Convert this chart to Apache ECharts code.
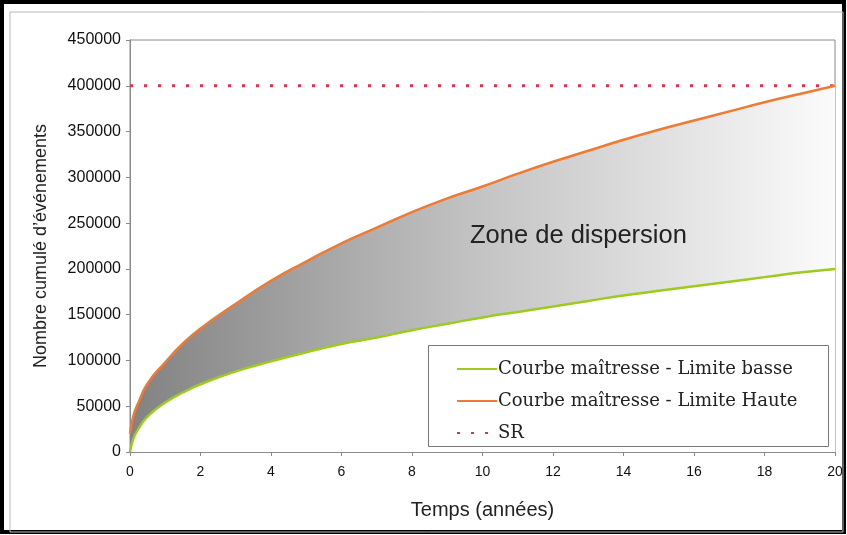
<!DOCTYPE html>
<html>
<head>
<meta charset="utf-8">
<script src="https://cdn.jsdelivr.net/npm/echarts@6/dist/echarts.min.js"></script>
<style>html,body{margin:0;padding:0;background:#fff;}#c{width:847px;height:535px;}</style>
</head>
<body>
<div id="c"></div>
<script>
const years = [0, 0.1, 0.25, 0.5, 1, 1.5, 2, 3, 4, 5, 6, 7, 8, 9, 10, 11, 12, 13, 14, 15, 16, 17, 18, 19, 20];
const lowerLimit = [0, 15000, 26000, 39000, 54000, 65000, 74000, 88000, 99000, 109000, 118000, 125000, 133000, 140000, 147000, 153000, 159000, 165000, 171000, 176000, 181000, 186000, 191000, 196000, 200000];
const upperLimit = [20000, 40000, 55000, 75000, 98000, 118500, 135000, 162000, 187000, 208000, 228000, 245000, 262000, 277000, 290000, 304000, 317000, 329000, 341000, 352000, 362000, 372000, 382000, 391000, 400000];
const srLevel = 400000;
const srYears = [0, 20];
const names = ['Courbe maîtresse - Limite basse', 'Courbe maîtresse - Limite Haute', 'SR'];

const lowerData = years.map((t, i) => [t, lowerLimit[i]]);
const upperData = years.map((t, i) => [t, upperLimit[i]]);
const srData = srYears.map(t => [t, srLevel]);

const sans = '"Liberation Sans", Arial, sans-serif';

const chart = echarts.init(document.getElementById('c'));
chart.setOption({
  animation: false,
  backgroundColor: '#fff',
  grid: { left: 130, top: 40, right: 12, bottom: 83, show: true, borderColor: '#8a8a8a', borderWidth: 1 },
  xAxis: {
    type: 'value', min: 0, max: 20, interval: 2,
    name: 'Temps (années)', nameLocation: 'middle', nameGap: 48,
    nameTextStyle: { fontFamily: sans, fontSize: 20, color: '#222' },
    axisLine: { lineStyle: { color: '#8a8a8a' } },
    axisTick: { show: true, length: 4, lineStyle: { color: '#8a8a8a' } },
    axisLabel: { fontFamily: sans, fontSize: 14, color: '#111', margin: 13 },
    splitLine: { show: false }
  },
  yAxis: {
    type: 'value', min: 0, max: 450000, interval: 50000,
    name: 'Nombre cumulé d\u2019événements', nameLocation: 'middle', nameGap: 80, nameRotate: 90,
    nameTextStyle: { fontFamily: sans, fontSize: 18, color: '#222' },
    axisLine: { show: true, lineStyle: { color: '#8a8a8a' } },
    axisTick: { show: true, length: 4, lineStyle: { color: '#8a8a8a' } },
    axisLabel: { fontFamily: sans, fontSize: 16, color: '#111', margin: 9, formatter: v => String(v) },
    splitLine: { show: false }
  },
  legend: {
    data: names,
    orient: 'vertical',
    left: 456, top: 360,
    padding: 0,
    itemGap: 14,
    itemWidth: 40, itemHeight: 14,
    itemStyle: { opacity: 0 },
    textStyle: { fontFamily: '"DejaVu Serif", "Liberation Serif", serif', fontSize: 18, color: '#222', padding: [0, 0, 0, -4] },
    z: 20
  },
  graphic: [
    { type: 'rect', shape: { x: 2, y: 2, width: 842, height: 530 }, style: { fill: 'none', stroke: '#000', lineWidth: 4 }, z: 100 },
    { type: 'rect', shape: { x: 10, y: 12, width: 833, height: 520 }, style: { fill: 'none', stroke: '#bbb', lineWidth: 1 }, z: 100 },
    { type: 'rect', shape: { x: 428.5, y: 345.5, width: 400, height: 101 }, style: { fill: '#fff', stroke: '#777', lineWidth: 1 }, z: 10 },
    { type: 'text', left: 470, top: 223, style: { text: 'Zone de dispersion', font: '25.5px "Liberation Sans", Arial', fill: '#222' }, z: 50 }
  ],
  series: [
    {
      name: 'fill', type: 'line', data: upperData, smooth: true, symbol: 'none', silent: true,
      lineStyle: { width: 0, opacity: 0 },
      areaStyle: {
        opacity: 1,
        color: new echarts.graphic.LinearGradient(0, 0, 1, 0, [
          { offset: 0, color: '#828282' },
          { offset: 0.5, color: '#c4c4c4' },
          { offset: 1, color: '#fbfbfb' }
        ])
      }, z: 1
    },
    {
      name: 'mask', type: 'line', data: lowerData, smooth: true, symbol: 'none', silent: true,
      lineStyle: { width: 0, opacity: 0 },
      areaStyle: { opacity: 1, color: '#ffffff' }, z: 2
    },
    {
      name: names[0], type: 'line', data: lowerData, smooth: true, symbol: 'none',
      lineStyle: { color: '#9ccb1e', width: 2.5 }, itemStyle: { color: '#9ccb1e' }, z: 5
    },
    {
      name: names[1], type: 'line', data: upperData, smooth: true, symbol: 'none',
      lineStyle: { color: '#ee7a33', width: 2.5 }, itemStyle: { color: '#ee7a33' }, z: 6
    },
    {
      name: names[2], type: 'line', data: srData, symbol: 'none',
      lineStyle: { color: '#d8344f', width: 3, type: [3, 11] }, itemStyle: { color: '#d8344f' }, z: 4
    }
  ]
});
</script>
</body>
</html>
